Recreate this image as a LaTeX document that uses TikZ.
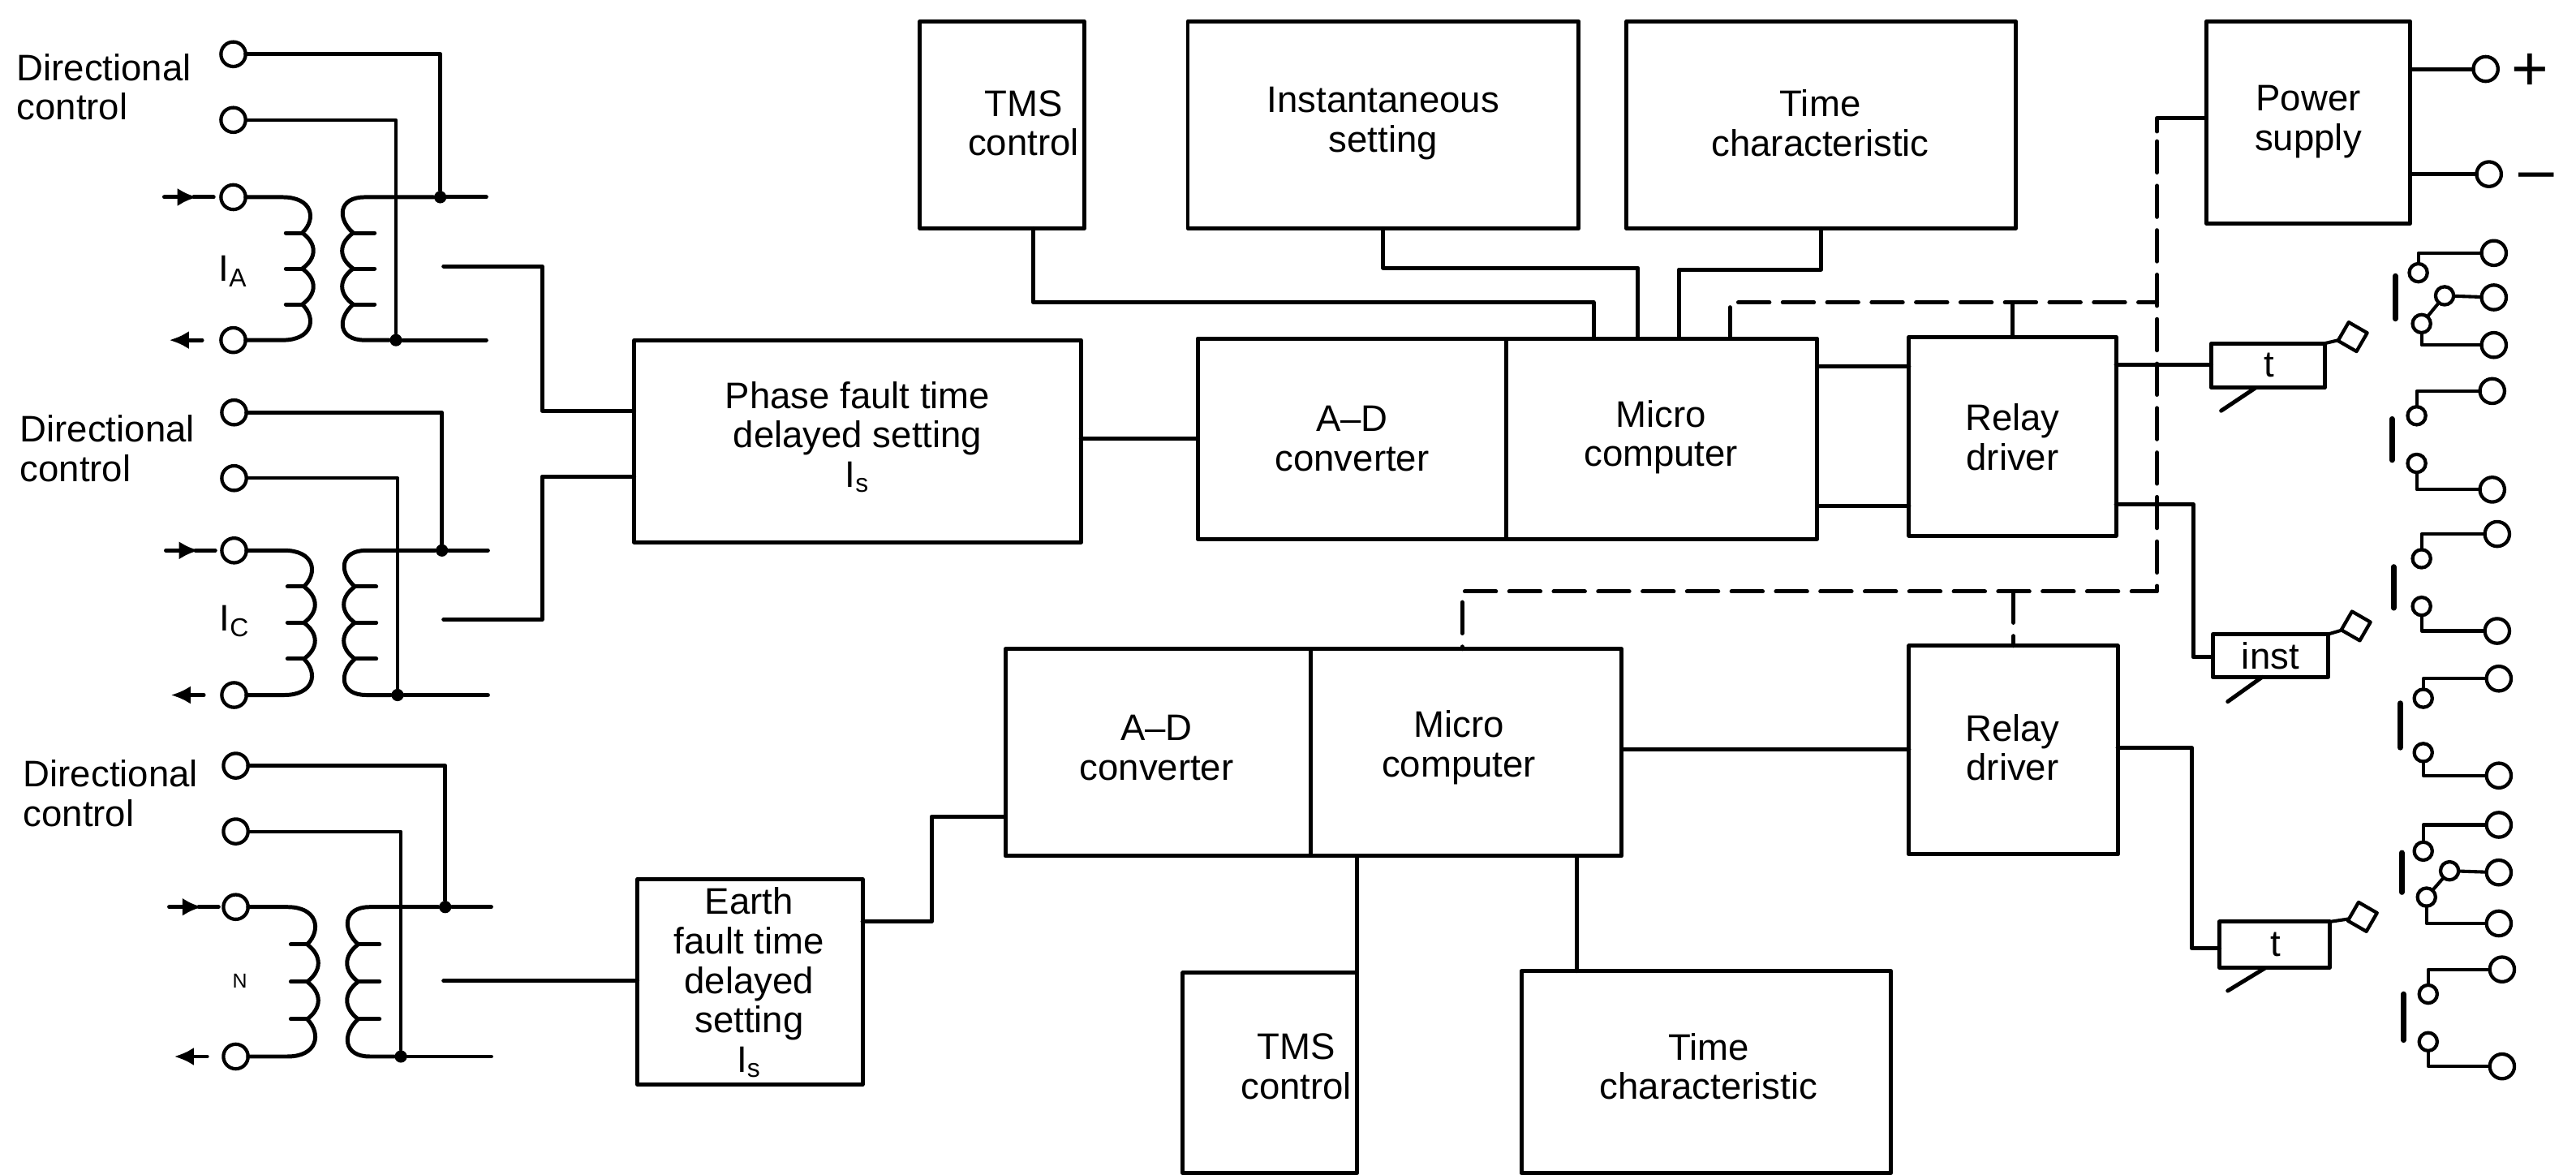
\documentclass[tikz,border=0pt]{standalone}
\usepackage{fontspec}
\setmainfont{Liberation Sans}
\usetikzlibrary{arrows.meta,calc,positioning}
\tikzset{
  every node/.style={font=\fontsize{12.8}{13.7}\selectfont},
  blk/.style={rectangle, draw, line width=1.4pt, inner sep=0pt, outer sep=0pt},
  lbl/.style={align=center, inner sep=0pt},
  wire/.style={line width=1.4pt},
  thinw/.style={line width=1.15pt},
  dashw/.style={line width=1.4pt, dash pattern=on 10.8pt off 4.6pt},
  term/.style={circle, draw, line width=1.2pt, minimum size=0.3cm, inner sep=0pt, outer sep=0pt},
  smallt/.style={circle, draw, line width=1.2pt, minimum size=0.22cm, inner sep=0pt, outer sep=0pt},
  dotv/.style={circle, fill, inner sep=0pt, minimum size=0.15cm},
  flag/.style={rectangle, draw, line width=1.2pt, rotate=-30, minimum size=0.26cm, inner sep=0pt, outer sep=0pt},
  barc/.style={line width=1.9pt},
  every picture/.style={line cap=round, line join=round}
}

\begin{document}
\begin{tikzpicture}[x=0.02cm,y=-0.02cm]
    \useasboundingbox (0,0) rectangle (1568,715);

    % blocks, given by their corners and where the text sits
    \foreach \name/\xa/\ya/\xb/\yb/\tx/\ty/\txt in {
      tmsa/560/13/660/139/623/75/TMS\\control,
      inst/723/13/961/139/842/75/Instantaneous\\setting,
      timea/990/13/1227/139/1108/75/Time\\characteristic,
      power/1343/13/1467/136/1405/74/Power\\supply,
      phase/386/207/658/330/522/266/Phase fault time\\delayed setting\\I\textsubscript{s},
      adca/729/206/917/328/823/267/A–D\\converter,
      micra/917/206/1106/328/1011/266/Micro\\computer,
      relaya/1162/205/1288/326/1225/266/Relay\\driver,
      adcb/612/395/798/521/704/455/A–D\\converter,
      micrb/798/395/987/521/888/455/Micro\\computer,
      relayb/1162/393/1289/520/1225/455/Relay\\driver,
      earth/388/535/525/660/456/598/Earth\\fault time\\delayed\\setting\\I\textsubscript{s},
      tmsb/720/592/826/714/789/649/TMS\\control,
      timeb/926/591/1151/714/1040/649/Time\\characteristic,
      tima/1346/209/1415/236/1381/222/t,
      timi/1347/386/1417/412/1382/399/inst,
      timb/1351/561/1418/589/1385/575/t}
    {
      \node[blk, minimum width={(\xb-\xa)*0.02cm}, minimum height={(\yb-\ya)*0.02cm}] (\name)
        at ({(\xa+\xb)/2},{(\ya+\yb)/2}) {};
      \node[lbl] (\name txt) at (\tx,\ty) {\txt};
    }

    % input side, one current transformer per group
    \foreach \g/\dx/\ys/\yt/\yc/\yd in {
      a/0/33/73/120/207,
      c/1/251/291/335/423,
      n/3/466/506/552/643}
    {
      \pgfmathsetmacro\h{(\yd-\yc)/4}
      \node[term] (\g1) at (142+\dx/2,\ys) {};
      \node[term] (\g2) at (142+\dx/2,\yt) {};
      \node[term] (\g3) at (142+\dx/2,\yc) {};
      \node[term] (\g4) at (142+\dx/2,\yd) {};
      \node[dotv] (\g5) at (268+\dx,\yc) {};
      \node[dotv] (\g6) at (241+\dx,\yd) {};
      \coordinate (\g7) at (296+\dx,\yc);
      \coordinate (\g8) at (296+\dx,\yd);

      \draw[wire] (\g1) -| (\g5);
      \draw[thinw] (\g2) -| (\g6);
      \draw[wire] (\g7) -- (\g5);
      \draw[wire] (\g8) -- (\g6);

      \begin{scope}[shift={(\dx,\yc)}]
        \draw[wire] (\g3) -- (172,0) .. controls (190,0) and (193,{.6*\h}) .. (184,\h);
        \draw[wire] (\g4) -- (172,{4*\h}) .. controls (190,{4*\h}) and (193,{3.4*\h}) .. (184,{3*\h});
        \draw[wire] (184,\h) .. controls (193,{1.3*\h}) and (193,{1.7*\h}) .. (184,{2*\h})
          .. controls (193,{2.3*\h}) and (193,{2.7*\h}) .. (184,{3*\h});
        \draw[wire] (\g5) -- (222,0) .. controls (206,0) and (205,{.6*\h}) .. (215,\h);
        \draw[wire] (\g6) -- (222,{4*\h}) .. controls (206,{4*\h}) and (205,{3.4*\h}) .. (215,{3*\h});
        \draw[wire] (215,\h) .. controls (206,{1.3*\h}) and (206,{1.7*\h}) .. (215,{2*\h})
          .. controls (206,{2.3*\h}) and (206,{2.7*\h}) .. (215,{3*\h});
        \foreach \i in {1,2,3} {
          \draw[wire] (174,{\i*\h}) -- (184,{\i*\h});
          \draw[wire] (215,{\i*\h}) -- (228,{\i*\h});
        }
        \draw[wire, -{Latex[length=0.24cm,width=0.22cm]}] (100,0) -- (120,0);
        \draw[wire] (118,0) -- (130,0);
        \draw[wire, {Latex[length=0.24cm,width=0.22cm]}-] (103,{4*\h}) -- (123,{4*\h});
      \end{scope}
    }

    \node[align=left, anchor=west] (dira) at (4,53) {Directional\\control};
    \node[align=left, anchor=west] (dirc) at (6,273) {Directional\\control};
    \node[align=left, anchor=west] (dirn) at (8,483) {Directional\\control};
    \node (labela) at (142,165) {I\textsubscript{A}};
    \node (labelc) at (143,378) {I\textsubscript{C}};
    \node[font=\fontsize{7}{8}\selectfont] (labeln) at (146,597) {N};

    % outputs of the transformers
    \coordinate (oa) at (270,162);
    \coordinate (oc) at (270,377);
    \coordinate (on) at (270,597);
    \draw[wire] (oa) -- (330,162) |- (phase.west |- 0,250);
    \draw[wire] (oc) -- (330,377) |- (phase.west |- 0,290);
    \draw[wire] (on) -- (earth.west |- on);

    % between the blocks
    \draw[wire] (phase.east |- 0,267) -- (adca.west |- 0,267);
    \draw[wire] (micra.east |- 0,223) -- (relaya.west |- 0,223);
    \draw[wire] (micra.east |- 0,308) -- (relaya.west |- 0,308);
    \draw[wire] (relaya.east |- 0,222) -- (tima.west |- 0,222);
    \draw[wire] (relaya.east |- 0,307) -- (1335,307) |- (timi.west |- 0,400);
    \draw[wire] (tmsa.south -| 629,0) |- (970,184) -- (micra.north -| 970,0);
    \draw[wire] (inst.south) |- (997,163) -- (micra.north -| 997,0);
    \draw[wire] (timea.south) |- (1022,164) -- (micra.north -| 1022,0);
    \draw[wire] (earth.east |- 0,561) -- (567,561) |- (adcb.west |- 0,497);
    \draw[wire] (micrb.east |- 0,456) -- (relayb.west |- 0,456);
    \draw[wire] (relayb.east |- 0,455) -- (1334,455) |- (timb.west |- 0,577);
    \draw[wire] (micrb.south -| 826,0) -- (tmsb.north -| 826,0);
    \draw[wire] (micrb.south -| 960,0) -- (timeb.north -| 960,0);

    % supply, dashed
    \coordinate (ctrl) at (1313,72);
    \coordinate (dtop) at (1313,184);
    \coordinate (dlow) at (1313,360);
    \draw[wire] (power.west |- ctrl) -- (ctrl) -- ++(0,8);
    \draw[dashw] (ctrl) ++(0,14) -- (dlow) -| (micrb.north -| 890,0);
    \draw[dashw] (micra.north -| 1053,0) |- (dtop);
    \draw[wire] (relaya.north |- dtop) -- (relaya.north);
    \draw[dashw] (relayb.north |- dlow) -- (relayb.north);

    \node[term] (plus) at (1513,42) {};
    \node[term] (minus) at (1515,106) {};
    \node[font=\fontsize{22}{24}\selectfont] (plustxt) at (1540,44) {+};
    \node[font=\fontsize{22}{24}\selectfont] (minustxt) at (1544,111) {–};
    \draw[wire] (power.east |- plus) -- (plus);
    \draw[wire] (power.east |- minus) -- (minus);

    % timers with flag and tick
    \foreach \tim/\fx/\fy/\sx/\tx/\ty in {
      tima/1432/205/1373/1352/250,
      timi/1434/381/1377/1356/427,
      timb/1438/558/1379/1356/603}
    {
      \node[flag] (\tim f) at (\fx,\fy) {};
      \coordinate (\tim t) at (\tx,\ty);
      \draw[thinw] (\tim.north east) -- (\tim f);
      \draw[wire] (\tim.south -| \sx,0) -- (\tim t);
    }

    % contact pairs
    \foreach \c/\xs/\xb/\ys/\yb/\ysl/\ybl/\xr/\yra/\yrb in {
      p/1471/1517/253/238/282/298/1456/255/280,
      q/1474/1520/340/325/369/384/1457/345/370,
      r/1475/1521/425/413/458/472/1461/428/455,
      s/1478/1523/605/590/634/649/1463/605/633}
    {
      \node[smallt] (\c1) at (\xs,\ys) {};
      \node[smallt] (\c2) at (\xs,\ysl) {};
      \node[term] (\c3) at (\xb,\yb) {};
      \node[term] (\c4) at (\xb,\ybl) {};
      \coordinate (\c5) at (\xr,\yra);
      \coordinate (\c6) at (\xr,\yrb);
      \draw[thinw] (\c3) -| (\c1);
      \draw[thinw] (\c4) -| (\c2);
      \draw[barc] (\c5) -- (\c6);
    }

    % changeover contacts
    \foreach \c/\xs/\xm/\xb/\ys/\yb/\ym/\ybm/\yl/\ybl/\xr/\yra/\yrb in {
      u/1472/1488/1518/166/154/180/181/197/210/1458/168/194,
      v/1475/1491/1521/518/502/530/531/546/562/1462/519/543}
    {
      \node[smallt] (\c1) at (\xs,\ys) {};
      \node[smallt] (\c2) at (\xm,\ym) {};
      \node[smallt] (\c3) at (\xs+2,\yl) {};
      \node[term] (\c4) at (\xb,\yb) {};
      \node[term] (\c5) at (\xb,\ybm) {};
      \node[term] (\c6) at (\xb,\ybl) {};
      \coordinate (\c7) at (\xr,\yra);
      \coordinate (\c8) at (\xr,\yrb);
      \draw[thinw] (\c4) -| (\c1);
      \draw[thinw] (\c5) -- (\c2);
      \draw[thinw] (\c6) -| (\c3);
      \draw[thinw] (\c3) -- (\c2);
      \draw[barc] (\c7) -- (\c8);
    }
  \end{tikzpicture}
\end{document}
